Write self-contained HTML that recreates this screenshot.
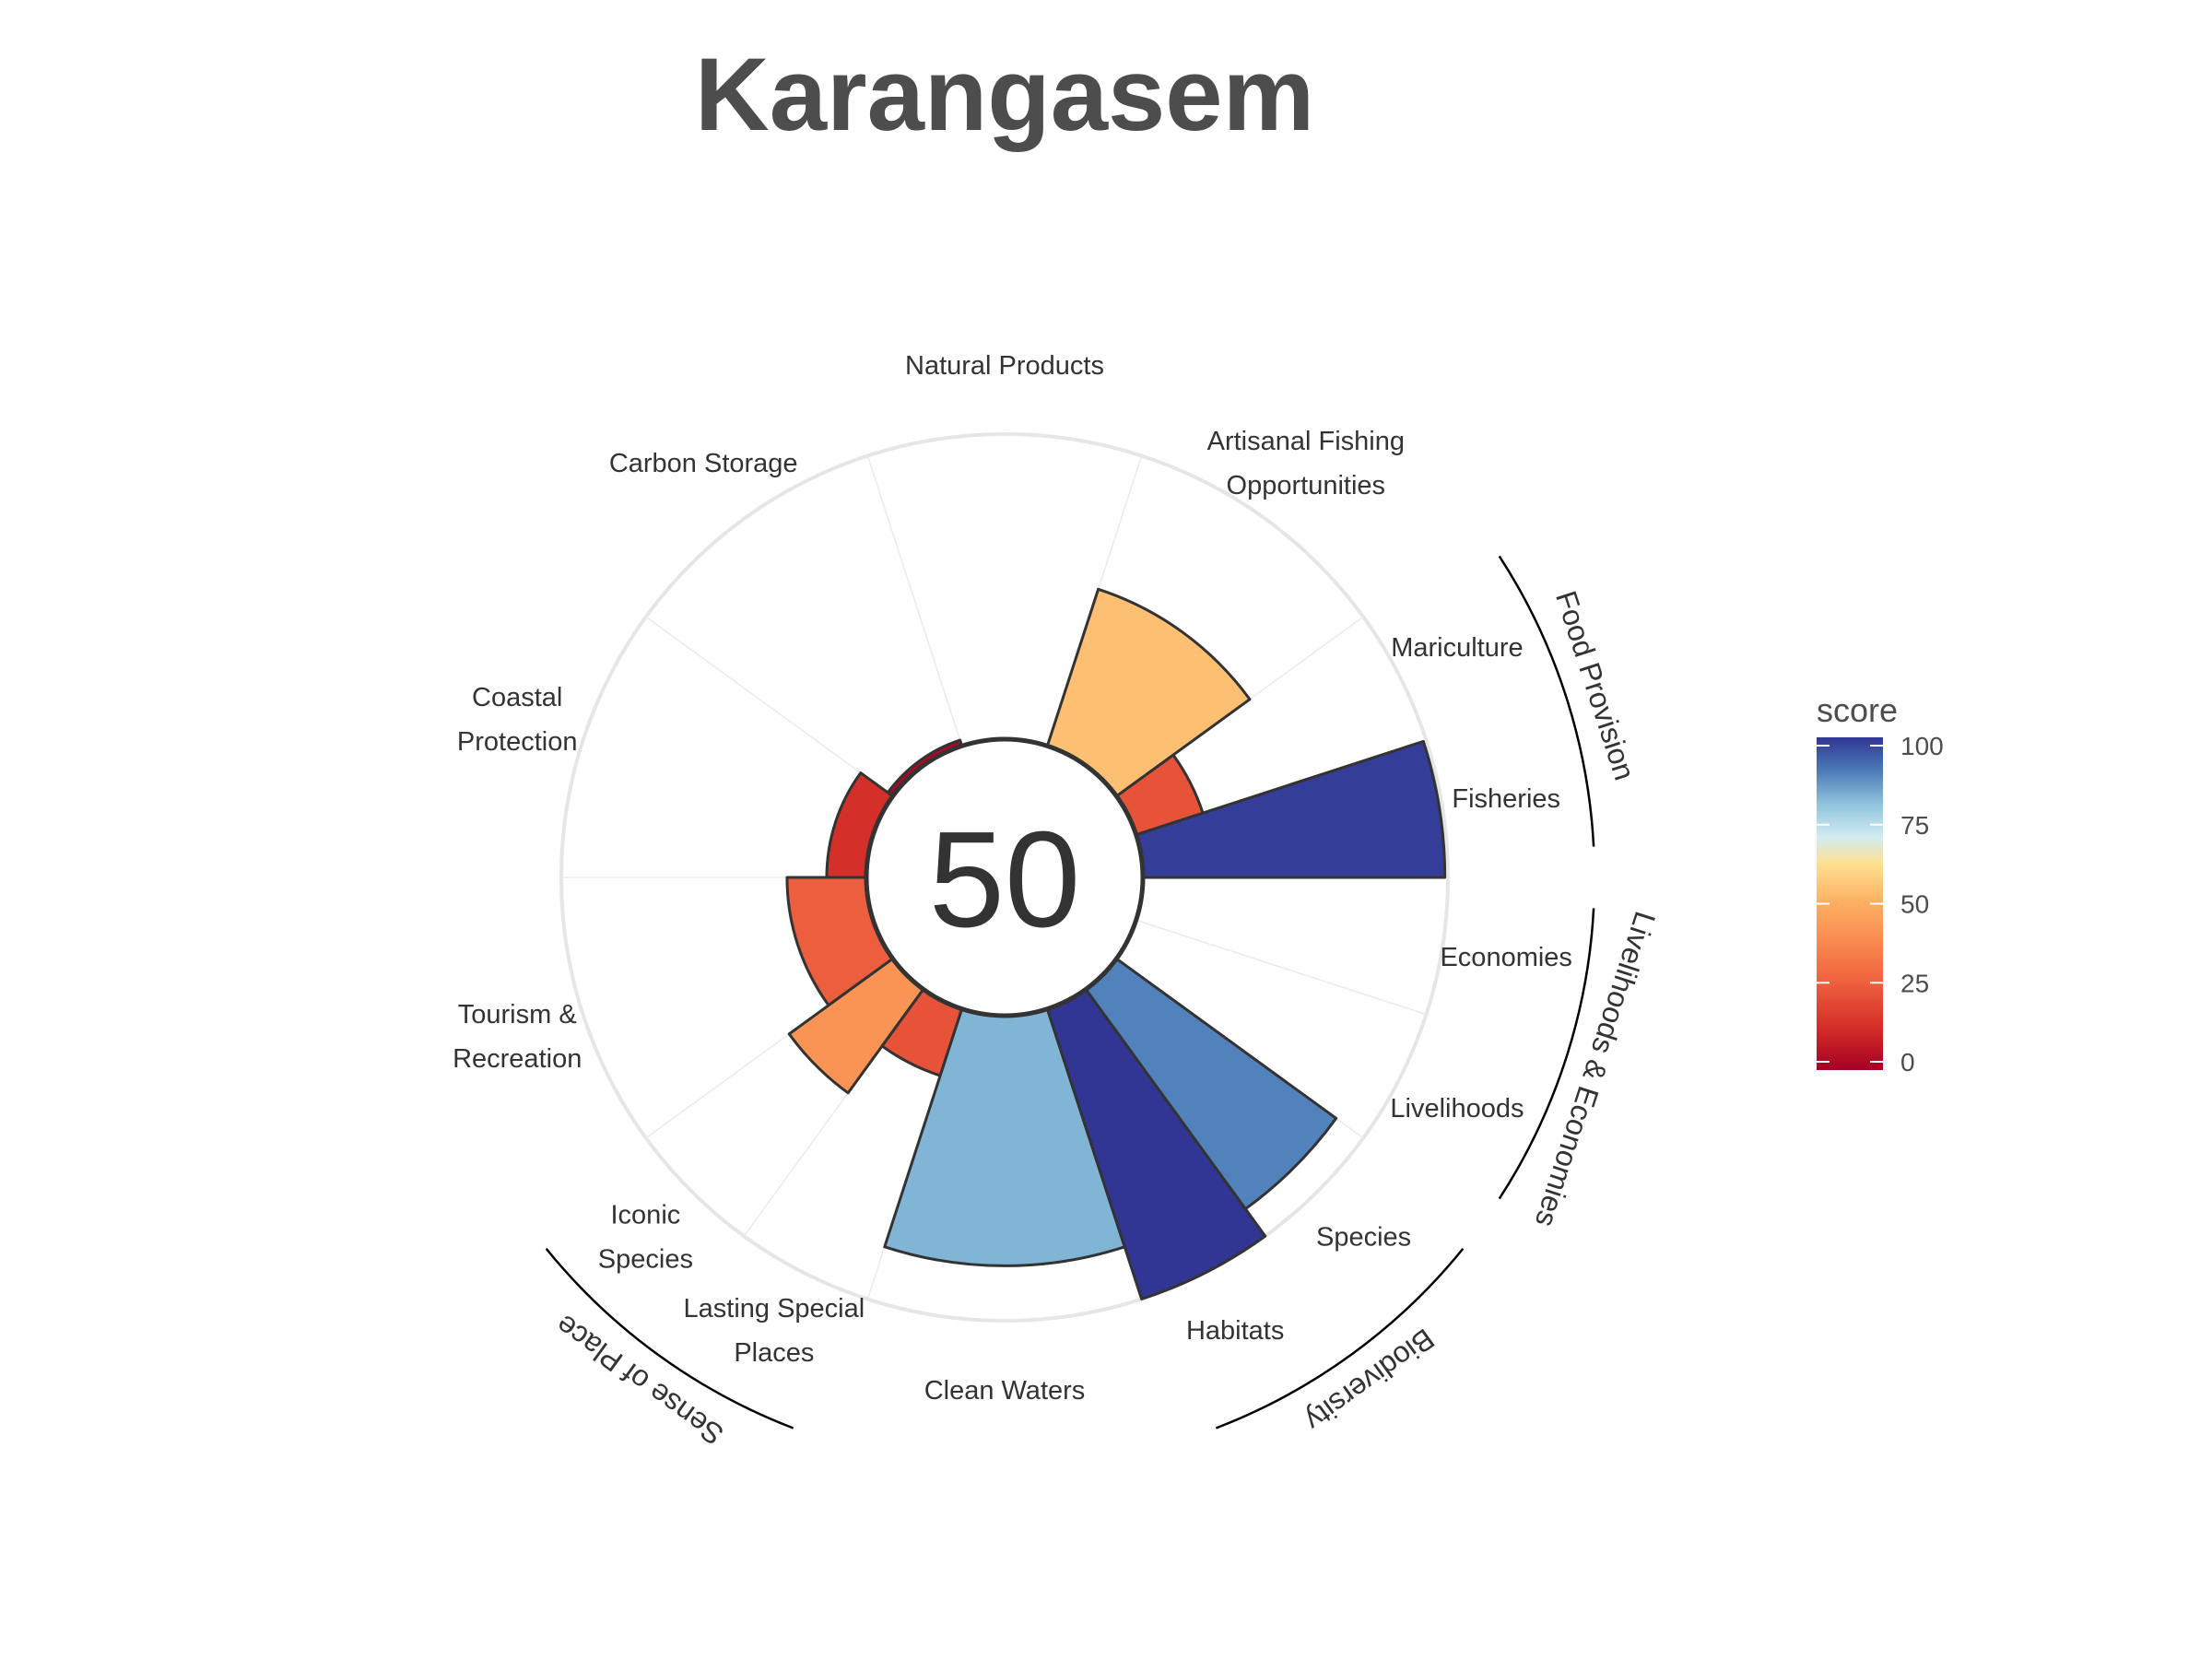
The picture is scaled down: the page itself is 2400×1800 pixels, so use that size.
<!DOCTYPE html>
<html><head><meta charset="utf-8"><style>
html,body{margin:0;padding:0;background:#fff;}
svg{display:block;font-family:"Liberation Sans",sans-serif;}
</style></head><body>
<svg id="chart" width="2400" height="1800" viewBox="0 0 2400 1800" xmlns="http://www.w3.org/2000/svg">
<defs>
<linearGradient id="lg" x1="0" y1="1" x2="0" y2="0">
<stop offset="0" stop-color="#a50026"/><stop offset="0.12" stop-color="#d22b26"/><stop offset="0.3" stop-color="#f46d43"/><stop offset="0.5" stop-color="#fdae61"/><stop offset="0.62" stop-color="#fee090"/><stop offset="0.7" stop-color="#d2ecf1"/><stop offset="0.8" stop-color="#8fc3dd"/><stop offset="0.9" stop-color="#4a7bb7"/><stop offset="1" stop-color="#313695"/>
</linearGradient>
</defs>
<text x="1090" y="141" text-anchor="middle" font-size="112" font-weight="bold" fill="#4d4d4d">Karangasem</text>
<g id="grid"></g>
<g id="bars"></g>
<g id="labels"></g>
<g id="groups"></g>
<circle cx="1090" cy="952" r="150" fill="#fff" stroke="#333" stroke-width="5"/>
<text x="1090" y="1005" text-anchor="middle" font-size="148" fill="#333">50</text>
<g>
<text x="1971" y="783" font-size="36" fill="#4d4d4d">score</text>
<rect x="1971" y="800" width="72" height="361" fill="url(#lg)"/>
<g id="legticks"></g>
</g>
</svg>
<script>
const goals = ["Fisheries","Mariculture","Artisanal Fishing|Opportunities","Natural Products","Carbon Storage","Coastal|Protection","Tourism &|Recreation","Iconic|Species","Lasting Special|Places","Clean Waters","Habitats","Species","Livelihoods","Economies"];
const scores = [99, 23, 54, null, 2, 13, 26, 42, 23, 82, 100, 89, null, null];
const widths = [18, 18, 36, 36, 36, 36, 36, 18, 18, 36, 18, 18, 18, 18];
const groupNames = ["Food Provision","Sense of Place","Biodiversity","Livelihoods & Economies"];
const groupGoals = [[0,1],[7,8],[10,11],[12,13]];
const legendTicks = [0,25,50,75,100];

const NS="http://www.w3.org/2000/svg";
const cx=1090, cy=952, R0=150, R1=481;
const rScale = s => R0 + s/100*(R1-R0);
const pt = (r,a) => [cx + r*Math.cos(a*Math.PI/180), cy - r*Math.sin(a*Math.PI/180)];
const stops=[[0,[165,0,38]],[12,[210,43,38]],[30,[244,109,67]],[50,[253,174,97]],[62,[254,224,144]],[70,[210,236,241]],[80,[143,195,221]],[90,[74,123,183]],[100,[49,54,149]]];
function color(s){for(let i=1;i<stops.length;i++){if(s<=stops[i][0]){const a=stops[i-1],b=stops[i];const t=(s-a[0])/(b[0]-a[0]);const c=a[1].map((v,k)=>Math.round(v+(b[1][k]-v)*t));return `rgb(${c})`;}}return "rgb(49,54,149)";}
function mk(tag,attrs,parent){const e=document.createElementNS(NS,tag);for(const k in attrs)e.setAttribute(k,attrs[k]);parent.appendChild(e);return e;}
function sector(r0,r1,a0,a1){const p1=pt(r0,a0),p2=pt(r1,a0),p3=pt(r1,a1),p4=pt(r0,a1);return `M${p1}L${p2}A${r1},${r1} 0 0 0 ${p3}L${p4}A${r0},${r0} 0 0 1 ${p1}Z`;}

const grid=document.getElementById('grid'), bars=document.getElementById('bars'), labels=document.getElementById('labels'), groups=document.getElementById('groups');
const starts=[];let acc=0;widths.forEach(w=>{starts.push(acc);acc+=w;});
const oc=mk('circle',{cx:cx,cy:cy,r:R1,fill:'none',stroke:'#e6e6e6','stroke-width':4},grid);


starts.forEach((a,i)=>{
  const p0=pt(R0,a),p1=pt(R1,a);
  const l=mk('line',{x1:p0[0],y1:p0[1],x2:p1[0],y2:p1[1],stroke:'#ebebeb','stroke-width':1.5},grid);
  
  
});
goals.forEach((g,i)=>{
  const a0=starts[i],a1=a0+widths[i],am=(a0+a1)/2;
  const s=scores[i];
  if(s!==null){
    const p=mk('path',{d:sector(R0,rScale(s),a0,a1),fill:color(s),stroke:'#333','stroke-width':3,'stroke-linejoin':'round'},bars);
    
    
  }
  const lines=g.split('|');
  const [x,y]=pt(R1+(widths[i]===18?70:75),am);
  const t=mk('text',{x:x,y:y+10-(lines.length-1)*24,'text-anchor':'middle','font-size':29,fill:'#333'},labels);
  
  
  lines.forEach((ln,k)=>{const ts=mk('tspan',{x:x,dy:k?48:0},t);ts.textContent=ln;});
});
groupGoals.forEach((gg,i)=>{
  const a0=starts[gg[0]]+3, a1=starts[gg[gg.length-1]]+widths[gg[gg.length-1]]-3, am=(a0+a1)/2;
  const rA=640, p0=pt(rA,a0), p1=pt(rA,a1);
  const arc=mk('path',{d:`M${p0}A${rA},${rA} 0 0 0 ${p1}`,fill:'none',stroke:'#000','stroke-width':2.5},groups);
  
  
  const [x,y]=pt(674,am);
  const t=mk('text',{x:x,y:y,'text-anchor':'middle','dominant-baseline':'central','font-size':32,fill:'#333',transform:`rotate(${90-am} ${x} ${y})`},groups);
  
  
  t.textContent=groupNames[i];
});
const lt=document.getElementById('legticks');
legendTicks.forEach(v=>{
  const y=1152-(v/100)*(1152-809);
  const a=mk('line',{x1:1971,y1:y,x2:1985,y2:y,stroke:'#fff','stroke-width':2},lt);
  
  
  const b=mk('line',{x1:2029,y1:y,x2:2043,y2:y,stroke:'#fff','stroke-width':2},lt);
  
  
  const t=mk('text',{x:2062,y:y+10,'font-size':28,fill:'#4d4d4d'},lt);
  
  
  t.textContent=v;
});
</script>
</body></html>
